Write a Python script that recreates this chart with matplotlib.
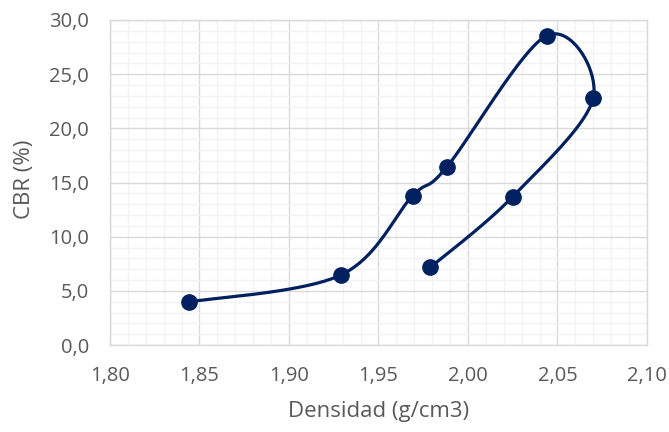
import numpy as np
import matplotlib.pyplot as plt
from matplotlib.ticker import MultipleLocator, FuncFormatter

# data
densidad = [1.844, 1.929, 1.969, 1.988, 2.044, 2.070, 2.025, 1.979]
cbr = [3.97, 6.46, 13.76, 16.4, 28.56, 22.83, 13.7, 7.17]

x_ticks = [1.80, 1.85, 1.90, 1.95, 2.00, 2.05, 2.10]
y_ticks = [0, 5, 10, 15, 20, 25, 30]

line_col = "#002060"
text_col = "#595959"


def smooth(xs, ys, sx, sy, n=40):
    # Excel-like smoothed line: bezier segments with catmull-rom style
    # control points, computed in scaled (screen-ish) units
    p = np.column_stack([np.asarray(xs) * sx, np.asarray(ys) * sy])
    out = []
    for i in range(len(p) - 1):
        p0 = p[i - 1] if i > 0 else p[i]
        p1, p2 = p[i], p[i + 1]
        p3 = p[i + 2] if i + 2 < len(p) else p[i + 1]
        c1 = p1 + (p2 - p0) / 6
        c2 = p2 - (p3 - p1) / 6
        t = np.linspace(0, 1, n)[:, None]
        seg = ((1 - t) ** 3 * p1 + 3 * (1 - t) ** 2 * t * c1
               + 3 * (1 - t) * t ** 2 * c2 + t ** 3 * p2)
        out.append(seg if i == 0 else seg[1:])
    out = np.vstack(out)
    return out[:, 0] / sx, out[:, 1] / sy


plt.rcParams['font.family'] = ['Open Sans', 'DejaVu Sans']

fig = plt.figure(figsize=(6.69, 4.32), dpi=100)
ax = fig.add_axes([110 / 669, 87 / 432, 537 / 669, 325 / 432])

sx = 537 / 0.30
sy = 325 / 30.0
xs, ys = smooth(densidad, cbr, sx, sy)
ax.plot(xs, ys, color=line_col, lw=2.3, zorder=3, solid_capstyle='round')
ax.plot(densidad, cbr, 'o', color=line_col, ms=11, zorder=4)

ax.set_xlim(1.80, 2.10)
ax.set_ylim(0, 30)
ax.set_xticks(x_ticks)
ax.set_yticks(y_ticks)
ax.xaxis.set_minor_locator(MultipleLocator(0.01))
ax.yaxis.set_minor_locator(MultipleLocator(1))
ax.xaxis.set_major_formatter(FuncFormatter(lambda v, p: f"{v:.2f}".replace('.', ',')))
ax.yaxis.set_major_formatter(FuncFormatter(lambda v, p: f"{v:.1f}".replace('.', ',')))

ax.grid(which='major', color='#d9d9d9', lw=1.0, zorder=1)
ax.grid(which='minor', color='#f2f2f2', lw=1.0, zorder=0)
ax.set_axisbelow(True)
for s in ax.spines.values():
    s.set_color('#d9d9d9')
    s.set_linewidth(1.0)
ax.tick_params(which='both', length=0, colors=text_col, labelsize=14.5)
ax.tick_params(axis='x', pad=15)
ax.tick_params(axis='y', pad=15)

ax.set_xlabel("Densidad (g/cm3)", color=text_col, fontsize=16, va='center')
ax.set_ylabel("CBR (%)", color=text_col, fontsize=16, va='center')
ax.xaxis.set_label_coords(0.5, -0.205)
ax.yaxis.set_label_coords(-0.16, 0.51)

fig.savefig("out.png", dpi=100)
